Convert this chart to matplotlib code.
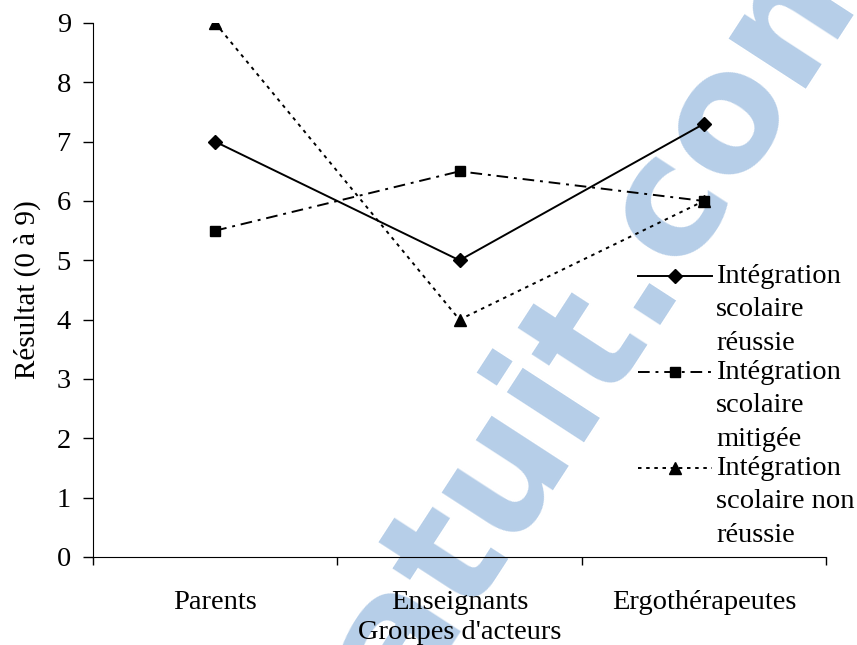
import matplotlib
matplotlib.use("Agg")
import matplotlib.pyplot as plt
from matplotlib.lines import Line2D

# Scores par groupe d'acteurs
groupes = ["Parents", "Enseignants", "Ergothérapeutes"]
reussie = [7.0, 5.0, 7.3]
mitigee = [5.5, 6.5, 6.0]
non_reussie = [9.0, 4.0, 6.0]
labels = ["Intégration\nscolaire\nréussie",
          "Intégration\nscolaire\nmitigée",
          "Intégration\nscolaire non\nréussie"]

plt.rcParams['font.family'] = ['Liberation Serif', 'DejaVu Serif']
fs = 20.5
W, H = 857, 645

fig = plt.figure(figsize=(W / 100, H / 100), dpi=100)
ax = fig.add_axes([93 / W, 1 - 557 / H, (826 - 93) / W, (557 - 23) / H])
ax.set_facecolor('none')

# filigrane bleu en diagonale, derriere les courbes
wm = dict(fontsize=120, fontweight='bold', family='DejaVu Sans', color='#b6cee8',
          rotation=57, rotation_mode='anchor', va='baseline', zorder=-1)
fig.text(680 / W, 1 - 272 / H, "Rapport-gratuit.", ha='right', **wm)
fig.text(680 / W, 1 - 272 / H, "com", ha='left', **wm)

styles = [
    dict(ls='-', marker='D', ms=7.5),
    dict(ls=(0, (6, 3, 1.5, 3)), marker='s', ms=7),
    dict(ls=(0, (1.8, 2.4)), marker='^', ms=8.5),
]

x = list(range(len(groupes)))
for serie, st in zip([reussie, mitigee, non_reussie], styles):
    ax.plot(x, serie, color='black', lw=1.4, **st)

ax.set_xlim(-0.5, 2.5)
ax.set_ylim(0, 9)
ax.set_yticks(range(10))
ax.set_xticks([-0.5, 0.5, 1.5, 2.5])
ax.set_xticklabels([])
ax.set_xticks(x, minor=True)
ax.set_xticklabels(groupes, minor=True)
ax.tick_params(axis='x', which='major', direction='out', length=6, width=1)
ax.tick_params(axis='x', which='minor', length=0, pad=24, labelsize=fs)
ax.tick_params(axis='y', direction='out', length=7, width=1, labelsize=fs, pad=9)

for s in ['top', 'right']:
    ax.spines[s].set_visible(False)

ax.set_ylabel("Résultat (0 à 9)", fontsize=21)
ax.yaxis.set_label_coords(-0.071, 0.5)
ax.set_xlabel("Groupes d'acteurs", fontsize=fs, va='center')
ax.xaxis.set_label_coords(0.5, -0.141)

# legende a droite, symbole aligne sur la premiere ligne du libelle
for i, (lab, st) in enumerate(zip(labels, styles)):
    y0 = 276 + i * 96
    fig.add_artist(Line2D([638 / W, 712 / W], [1 - y0 / H] * 2, color='black', lw=1.4,
                          ls=st['ls'], transform=fig.transFigure))
    fig.add_artist(Line2D([675 / W], [1 - y0 / H], color='black', ls='none',
                          marker=st['marker'], ms=st['ms'], transform=fig.transFigure))
    for j, ligne in enumerate(lab.split("\n")):
        fig.text(716 / W, 1 - (y0 + 7 + j * 33.5) / H, ligne, fontsize=fs,
                 ha='left', va='baseline')

fig.savefig("out.png", dpi=100)
